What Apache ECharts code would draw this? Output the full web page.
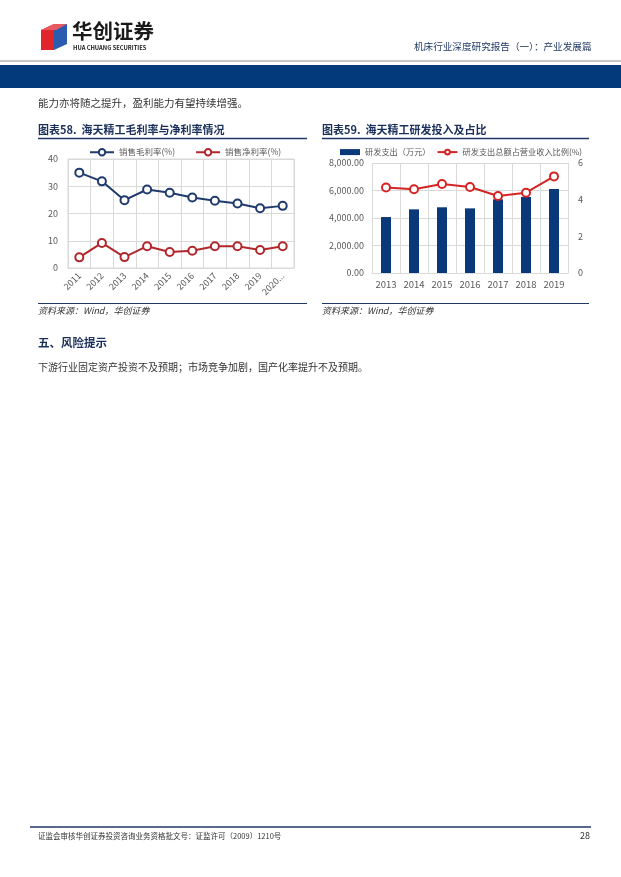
<!DOCTYPE html>
<html><head><meta charset="utf-8">
<script src="https://cdn.jsdelivr.net/npm/echarts@6/dist/echarts.min.js"></script>
<style>html,body{margin:0;padding:0;background:#fff;}#c{width:621px;height:877px;}</style>
</head><body><div id="c"></div>
<script>
// Chart 58 data
var years1 = ['2011','2012','2013','2014','2015','2016','2017','2018','2019','2020...'];
var grossMargin = [35.0, 31.8, 24.9, 28.8, 27.6, 25.9, 24.7, 23.7, 21.9, 22.8];
var netMargin = [3.9, 9.2, 4.0, 8.0, 5.9, 6.3, 8.0, 8.0, 6.6, 8.0];
var ticks1 = [0, 10, 20, 30, 40];
// Chart 59 data
var years2 = ['2013','2014','2015','2016','2017','2018','2019'];
var rdSpend = [4070, 4630, 4780, 4700, 5360, 5530, 6110];
var rdRatio = [4.66, 4.57, 4.85, 4.69, 4.20, 4.38, 5.27];
var ticksLeft2 = [0, 2000, 4000, 6000, 8000];
var ticksRight2 = [0, 2, 4, 6];

var SANS = '"Noto Sans CJK SC", "Noto Sans", sans-serif';
var NAVY = '#1f3b6e', RED1 = '#b0282c', BAR = '#0a397a', RED2 = '#d42424';
var GRID = '#d9d9d9', LBL = '#595959';

function fmt2(v){ return v.toFixed(2).replace(/\B(?=(\d{3})+(?!\d))/g, ','); }

var chart = echarts.init(document.getElementById('c'), null, {renderer:'canvas'});
function txt(x, y, s, size, color, weight, extra){
  var o = {type:'text', left:x, top:y, style:{text:s, fontSize:size, fill:color||'#333', fontWeight:weight||'normal', fontFamily:SANS}};
  if (extra) for (var k in extra) o.style[k] = extra[k];
  return o;
}
function hline(x1, x2, y, color, w){
  return {type:'line', shape:{x1:x1, y1:y, x2:x2, y2:y}, style:{stroke:color, lineWidth:w}};
}

var graphics = [
  // logo cube
  {type:'polygon', shape:{points:[[41,30],[54,24],[54,50],[41,50]]}, style:{fill:'#e0252b'}},
  {type:'polygon', shape:{points:[[54,24],[67,24],[67,44],[54,50]]}, style:{fill:'#2a5db0'}},
  {type:'polygon', shape:{points:[[41,30],[54,24],[67,24],[56,30]]}, style:{fill:'#e85a5f'}},
  txt(72, 21, '华创证券', 20.5, '#1a1a1a', 'bold'),
  txt(73, 45, 'HUA CHUANG SECURITIES', 5.8, '#1a1a1a', 'bold'),
  txt(414, 42, '机床行业深度研究报告（一）：产业发展篇', 9.6, '#1f3864', 'normal'),
  hline(0, 621, 61, '#c8c8c8', 2),
  {type:'rect', shape:{x:0, y:65, width:621, height:23}, style:{fill:'#033a7c'}},
  txt(38, 98, '能力亦将随之提升，盈利能力有望持续增强。', 10.5, '#333'),
  // chart 58 title
  txt(38, 124, '图表58.  海天精工毛利率与净利率情况', 11, '#1a2f5a', 'bold'),
  hline(38, 307, 138.5, '#1f3864', 1.5),
  hline(38, 307, 303.5, '#1f3864', 1.2),
  txt(38, 306, '资料来源：Wind，华创证券', 9, '#333', 'normal', {fontStyle:'italic'}),
  // chart 59 title
  txt(322, 124, '图表59.  海天精工研发投入及占比', 11, '#1a2f5a', 'bold'),
  hline(322, 589, 138.5, '#1f3864', 1.5),
  hline(322, 589, 303.5, '#1f3864', 1.2),
  txt(322, 306, '资料来源：Wind，华创证券', 9, '#333', 'normal', {fontStyle:'italic'}),
  txt(38, 337, '五、风险提示', 11.5, '#1a2f5a', 'bold'),
  txt(38, 362, '下游行业固定资产投资不及预期；市场竞争加剧，国产化率提升不及预期。', 10, '#333'),
  hline(30, 591, 827, '#1f3864', 1.5),
  txt(38, 832, '证监会审核华创证券投资咨询业务资格批文号：证监许可（2009）1210号', 7.5, '#333'),
  txt(580, 831, '28', 9, '#333')
];

var option = {
  animation:false,
  textStyle:{fontFamily:SANS},
  graphic:graphics,
  legend:[
    {left:84, top:143, itemWidth:24, itemHeight:8, itemGap:20,
     textStyle:{fontSize:8.5, color:LBL, fontFamily:SANS}, data:['销售毛利率(%)','销售净利率(%)']},
    {left:335, top:143, itemWidth:20, itemHeight:6, itemGap:6,
     textStyle:{fontSize:8.2, color:LBL, fontFamily:SANS},
     data:[{name:'研发支出（万元）', icon:'rect'}, {name:'研发支出总额占营业收入比例(%)'}]}
  ],
  grid:[
    {left:68, top:159, width:226, height:109, show:true, borderColor:GRID, borderWidth:1, containLabel:false},
    {left:372, top:163, width:196, height:110, containLabel:false}
  ],
  xAxis:[
    {type:'category', gridIndex:0, data:years1, boundaryGap:true,
     axisLine:{show:true, lineStyle:{color:GRID}}, axisTick:{show:false},
     splitLine:{show:true, lineStyle:{color:GRID}},
     axisLabel:{rotate:45, fontSize:9, color:LBL, margin:6, interval:0}},
    {type:'category', gridIndex:1, data:years2, boundaryGap:true,
     axisLine:{show:true, lineStyle:{color:GRID}}, axisTick:{show:false},
     splitLine:{show:true, lineStyle:{color:GRID}},
     axisLabel:{fontSize:9.5, color:LBL, margin:7, interval:0}}
  ],
  yAxis:[
    {type:'value', gridIndex:0, min:ticks1[0], max:ticks1[ticks1.length-1], interval:10,
     axisLine:{show:false}, axisTick:{show:false},
     splitLine:{lineStyle:{color:GRID}}, axisLabel:{fontSize:9, color:LBL, margin:10}},
    {type:'value', gridIndex:1, min:ticksLeft2[0], max:ticksLeft2[ticksLeft2.length-1], interval:2000,
     axisLine:{show:false}, axisTick:{show:false},
     splitLine:{lineStyle:{color:GRID}}, axisLabel:{fontSize:9, color:LBL, margin:8, formatter:fmt2}},
    {type:'value', gridIndex:1, position:'right', min:ticksRight2[0], max:ticksRight2[ticksRight2.length-1], interval:2,
     axisLine:{show:false}, axisTick:{show:false}, splitLine:{show:false},
     axisLabel:{fontSize:9, color:LBL, margin:10}}
  ],
  series:[
    {name:'销售毛利率(%)', type:'line', xAxisIndex:0, yAxisIndex:0, data:grossMargin,
     symbol:'circle', symbolSize:8, lineStyle:{color:NAVY, width:2},
     itemStyle:{color:'#fff', borderColor:NAVY, borderWidth:2}},
    {name:'销售净利率(%)', type:'line', xAxisIndex:0, yAxisIndex:0, data:netMargin,
     symbol:'circle', symbolSize:8, lineStyle:{color:RED1, width:2},
     itemStyle:{color:'#fff', borderColor:RED1, borderWidth:2}},
    {name:'研发支出（万元）', type:'bar', xAxisIndex:1, yAxisIndex:1, data:rdSpend,
     barWidth:10, itemStyle:{color:BAR}},
    {name:'研发支出总额占营业收入比例(%)', type:'line', xAxisIndex:1, yAxisIndex:2, data:rdRatio,
     symbol:'circle', symbolSize:8, lineStyle:{color:RED2, width:2},
     itemStyle:{color:'#fff', borderColor:RED2, borderWidth:2}}
  ]
};
chart.setOption(option);
</script>
</body></html>
